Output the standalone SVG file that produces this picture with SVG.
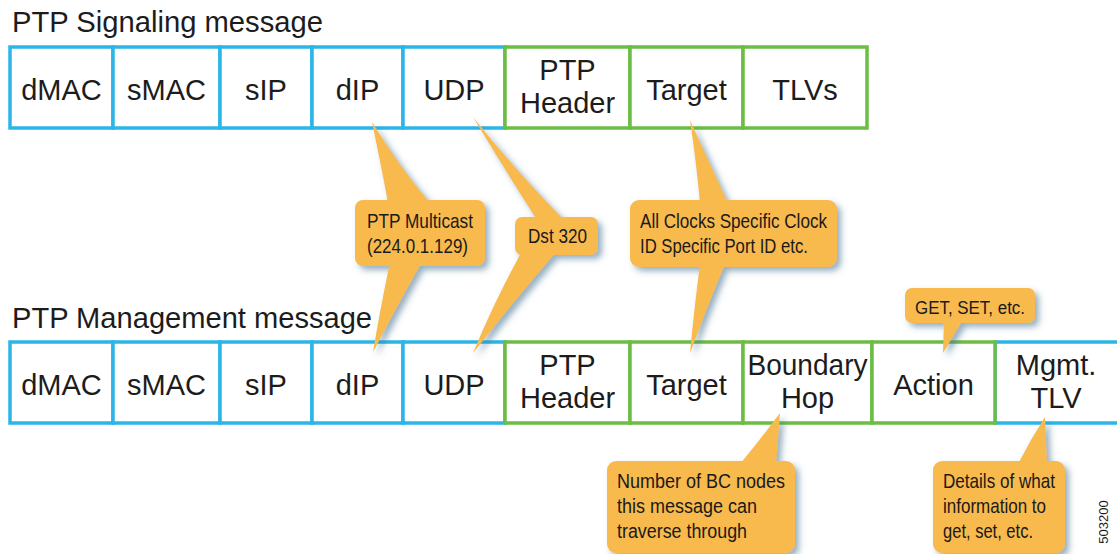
<svg xmlns="http://www.w3.org/2000/svg" width="1117" height="554" viewBox="0 0 1117 554">
<defs>
<filter id="sh" x="-20%" y="-20%" width="140%" height="140%">
<feDropShadow dx="4" dy="4" stdDeviation="3" flood-color="#3d6e8e" flood-opacity="0.55"/>
</filter>
<style>
.b{fill:#fff;stroke:#2bb5e8;stroke-width:3.5}
.g{fill:#fff;stroke:#6cbd45;stroke-width:3.5}
.t{font-family:"Liberation Sans",Arial,sans-serif;font-size:29px;fill:#1c1c1c;text-anchor:middle}
.h{font-family:"Liberation Sans",Arial,sans-serif;font-size:29px;fill:#1c1c1c}
.c{fill:#f8b94d}
.ct{font-family:"Liberation Sans",Arial,sans-serif;font-size:21px;fill:#1a1a1a}
</style>
</defs>
<rect width="1117" height="554" fill="#fff"/>
<text class="h" x="12" y="32" textLength="311" lengthAdjust="spacingAndGlyphs">PTP Signaling message</text>
<text class="h" x="12" y="328" textLength="360" lengthAdjust="spacingAndGlyphs">PTP Management message</text>

<g id="sig-dMAC"><rect class="b" x="10" y="47" width="103" height="81"/><text class="t" x="61.5" y="100">dMAC</text></g>
<g id="sig-sMAC"><rect class="b" x="113" y="47" width="107" height="81"/><text class="t" x="166.5" y="100">sMAC</text></g>
<g id="sig-sIP"><rect class="b" x="220" y="47" width="92" height="81"/><text class="t" x="266" y="100">sIP</text></g>
<g id="sig-dIP"><rect class="b" x="312" y="47" width="91" height="81"/><text class="t" x="357.5" y="100">dIP</text></g>
<g id="sig-UDP"><rect class="b" x="403" y="47" width="102" height="81"/><text class="t" x="454" y="100">UDP</text></g>
<g id="sig-PTPHeader"><rect class="g" x="505" y="47" width="125" height="81"/><text class="t" x="567.5" y="80">PTP</text><text class="t" x="567.5" y="113">Header</text></g>
<g id="sig-Target"><rect class="g" x="630" y="47" width="113" height="81"/><text class="t" x="686.5" y="100">Target</text></g>
<g id="sig-TLVs"><rect class="g" x="743" y="47" width="124" height="81"/><text class="t" x="805" y="100">TLVs</text></g>

<g id="mgmt-dMAC"><rect class="b" x="10" y="342" width="103" height="81"/><text class="t" x="61.5" y="395">dMAC</text></g>
<g id="mgmt-sMAC"><rect class="b" x="113" y="342" width="107" height="81"/><text class="t" x="166.5" y="395">sMAC</text></g>
<g id="mgmt-sIP"><rect class="b" x="220" y="342" width="92" height="81"/><text class="t" x="266" y="395">sIP</text></g>
<g id="mgmt-dIP"><rect class="b" x="312" y="342" width="91" height="81"/><text class="t" x="357.5" y="395">dIP</text></g>
<g id="mgmt-UDP"><rect class="b" x="403" y="342" width="102" height="81"/><text class="t" x="454" y="395">UDP</text></g>
<g id="mgmt-MgmtTLV"><rect class="b" x="995" y="342" width="126" height="81"/><text class="t" x="1056" y="375">Mgmt.</text><text class="t" x="1056" y="408">TLV</text></g>
<g id="mgmt-PTPHeader"><rect class="g" x="505" y="342" width="125" height="81"/><text class="t" x="567.5" y="375">PTP</text><text class="t" x="567.5" y="408">Header</text></g>
<g id="mgmt-Target"><rect class="g" x="630" y="342" width="113" height="81"/><text class="t" x="686.5" y="395">Target</text></g>
<g id="mgmt-BoundaryHop"><rect class="g" x="743" y="342" width="129" height="81"/><text class="t" x="807.5" y="375" textLength="120" lengthAdjust="spacingAndGlyphs">Boundary</text><text class="t" x="807.5" y="408">Hop</text></g>
<g id="mgmt-Action"><rect class="g" x="872" y="342" width="123" height="81"/><text class="t" x="933.5" y="395">Action</text></g>

<g id="connectors">
<g id="callout-multicast">
<g filter="url(#sh)">
<path class="c" d="M372,122 Q382,170 388,203 L430,203 Q398,165 372,122 Z"/>
<path class="c" d="M390,262 Q380,310 373,352 Q395,310 422,262 Z"/>
<rect class="c" x="355" y="200" width="130" height="66" rx="8"/>
</g>
<text class="ct" x="367" y="228" textLength="106" lengthAdjust="spacingAndGlyphs">PTP Multicast</text>
<text class="ct" x="367" y="253" textLength="101" lengthAdjust="spacingAndGlyphs">(224.0.1.129)</text>
</g>
<g id="callout-dst">
<g filter="url(#sh)">
<path class="c" d="M473,117 Q505,170 537,220 L564,220 Q515,170 473,117 Z"/>
<path class="c" d="M522,251 Q495,300 473,353 Q515,300 557,251 Z"/>
<rect class="c" x="515" y="217" width="83" height="38" rx="7"/>
</g>
<text class="ct" x="528" y="243" textLength="59" lengthAdjust="spacingAndGlyphs">Dst 320</text>
</g>
<g id="callout-target">
<g filter="url(#sh)">
<path class="c" d="M690,120 Q696,160 700,203 L728,203 Q708,160 690,120 Z"/>
<path class="c" d="M700,264 Q694,310 690,353 Q706,310 725,264 Z"/>
<rect class="c" x="630" y="200" width="207" height="67" rx="9"/>
</g>
<text class="ct" x="640" y="228" textLength="187" lengthAdjust="spacingAndGlyphs">All Clocks Specific Clock</text>
<text class="ct" x="640" y="253" textLength="168" lengthAdjust="spacingAndGlyphs">ID Specific Port ID etc.</text>
</g>
<g id="callout-action">
<g filter="url(#sh)">
<path class="c" d="M944,320 L943,353 Q952,338 963,320 Z"/>
<rect class="c" x="905" y="288" width="130" height="35" rx="7"/>
</g>
<text class="ct" x="915" y="314" style="font-size:18px" textLength="110" lengthAdjust="spacingAndGlyphs">GET, SET, etc.</text>
</g>
<g id="callout-boundary">
<g filter="url(#sh)">
<path class="c" d="M780,413 Q760,440 740,464 L776,464 Q778,440 780,413 Z"/>
<rect class="c" x="607" y="461" width="188" height="92" rx="9"/>
</g>
<text class="ct" x="617" y="488" style="font-size:20px" textLength="168" lengthAdjust="spacingAndGlyphs">Number of BC nodes</text>
<text class="ct" x="617" y="513" style="font-size:20px" textLength="140" lengthAdjust="spacingAndGlyphs">this message can</text>
<text class="ct" x="617" y="538" style="font-size:20px" textLength="130" lengthAdjust="spacingAndGlyphs">traverse through</text>
</g>
<g id="callout-mgmt">
<g filter="url(#sh)">
<path class="c" d="M1045,417 Q1030,440 1018,464 L1047,464 Z"/>
<rect class="c" x="933" y="461" width="132" height="92" rx="9"/>
</g>
<text class="ct" x="943" y="488" textLength="112" lengthAdjust="spacingAndGlyphs">Details of what</text>
<text class="ct" x="943" y="513" textLength="103" lengthAdjust="spacingAndGlyphs">information to</text>
<text class="ct" x="943" y="538" textLength="90" lengthAdjust="spacingAndGlyphs">get, set, etc.</text>
</g>
</g>
<text x="1108" y="522" transform="rotate(-90 1108 522)" style="font-family:'Liberation Sans',Arial,sans-serif;font-size:13px;fill:#1c1c1c" text-anchor="middle">503200</text>
</svg>
